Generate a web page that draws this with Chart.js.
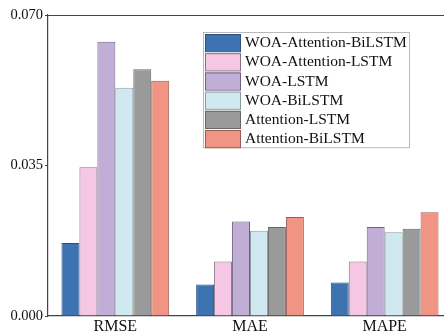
<!DOCTYPE html>
<html>
<head>
<meta charset="utf-8">
<script src="https://cdn.jsdelivr.net/npm/chart.js@4.4.1/dist/chart.umd.min.js"></script>
<style>
  html, body { margin: 0; padding: 0; background: #fff; overflow: hidden; }
  #wrap { width: 452px; height: 336px; }
</style>
</head>
<body>
<div id="wrap"><canvas id="chart"></canvas></div>
<script>
// metrics on the x axis
const categories = ['RMSE', 'MAE', 'MAPE'];
const models = ['WOA-Attention-BiLSTM', 'WOA-Attention-LSTM', 'WOA-LSTM', 'WOA-BiLSTM', 'Attention-LSTM', 'Attention-BiLSTM'];

// values per model, in order RMSE, MAE, MAPE
const woaAttBiLstm = [0.0170, 0.0073, 0.0078];
const woaAttLstm = [0.0346, 0.0127, 0.0127];
const woaLstm = [0.0638, 0.0220, 0.0207];
const woaBiLstm = [0.0531, 0.0198, 0.0195];
const attLstm = [0.0574, 0.0207, 0.0203];
const attBiLstm = [0.0547, 0.0230, 0.0241];

const yTicks = [0, 0.035, 0.070];

const fills = ['#3e73b1', '#f5c7e4', '#c0aed7', '#d0e9f0', '#9a9a9a', '#f09484'];
const edges = ['#2b4f7a', '#8a6f80', '#6f6480', '#8a9ba0', '#666666', '#9a5a50'];
const series = [woaAttBiLstm, woaAttLstm, woaLstm, woaBiLstm, attLstm, attBiLstm];

const serif = "'Liberation Serif', 'Times New Roman', serif";

// legend box drawn inside the plot, like the original figure
const boxLegend = {
  id: 'boxLegend',
  afterDraw(chart) {
    const ctx = chart.ctx;
    const x0 = 203, y0 = 32, w = 206, rowH = 19.2;
    ctx.save();
    ctx.fillStyle = '#fff';
    ctx.fillRect(x0, y0, w, rowH * 6);
    ctx.strokeStyle = '#b8b8b8';
    ctx.lineWidth = 1;
    ctx.strokeRect(x0 + 0.5, y0 + 0.5, w, rowH * 6);
    ctx.font = '15.5px ' + serif;
    ctx.textBaseline = 'middle';
    chart.data.datasets.forEach((ds, i) => {
      const y = y0 + 1 + i * rowH;
      ctx.fillStyle = ds.backgroundColor;
      ctx.fillRect(x0 + 2, y + 1, 35, rowH - 2);
      ctx.strokeStyle = ds.borderColor;
      ctx.strokeRect(x0 + 2.5, y + 1.5, 35, rowH - 2);
      ctx.fillStyle = '#111';
      ctx.fillText(ds.label, x0 + 42, y + rowH / 2 + 0.5);
    });
    ctx.restore();
  }
};

// top frame line
const topLine = {
  id: 'topLine',
  afterDraw(chart) {
    const { ctx, chartArea } = chart;
    ctx.save();
    ctx.strokeStyle = '#444';
    ctx.lineWidth = 1.2;
    ctx.beginPath();
    ctx.moveTo(chartArea.left, chartArea.top + 0.5);
    ctx.lineTo(chartArea.right, chartArea.top + 0.5);
    ctx.stroke();
    ctx.restore();
  }
};

new Chart(document.getElementById('chart'), {
  type: 'bar',
  data: {
    labels: categories,
    datasets: models.map((m, i) => ({
      label: m,
      data: series[i],
      backgroundColor: fills[i],
      borderColor: edges[i],
      borderWidth: 1,
      categoryPercentage: 0.8,
      barPercentage: 1.0
    }))
  },
  options: {
    responsive: true,
    maintainAspectRatio: false,
    animation: false,
    layout: { padding: { top: 15, right: 0, left: 0, bottom: 0 } },
    plugins: { legend: { display: false }, tooltip: { enabled: false } },
    scales: {
      x: {
        grid: { display: false, drawTicks: false, tickLength: 0 },
        border: { color: '#444', width: 1.2 },
        ticks: { color: '#111', font: { family: serif, size: 16 }, padding: 1 },
        afterFit(scale) { scale.height = 20; }
      },
      y: {
        min: 0,
        max: 0.07,
        afterBuildTicks(scale) { scale.ticks = yTicks.map(v => ({ value: v })); },
        grid: { drawOnChartArea: false, tickLength: 3, color: '#444' },
        border: { color: '#444', width: 1.2 },
        ticks: {
          color: '#111',
          font: { family: serif, size: 14.5 },
          padding: 2,
          callback: v => v.toFixed(3)
        },
        afterFit(scale) { scale.width = 48; }
      }
    }
  },
  plugins: [boxLegend, topLine]
});
</script>
</body>
</html>
